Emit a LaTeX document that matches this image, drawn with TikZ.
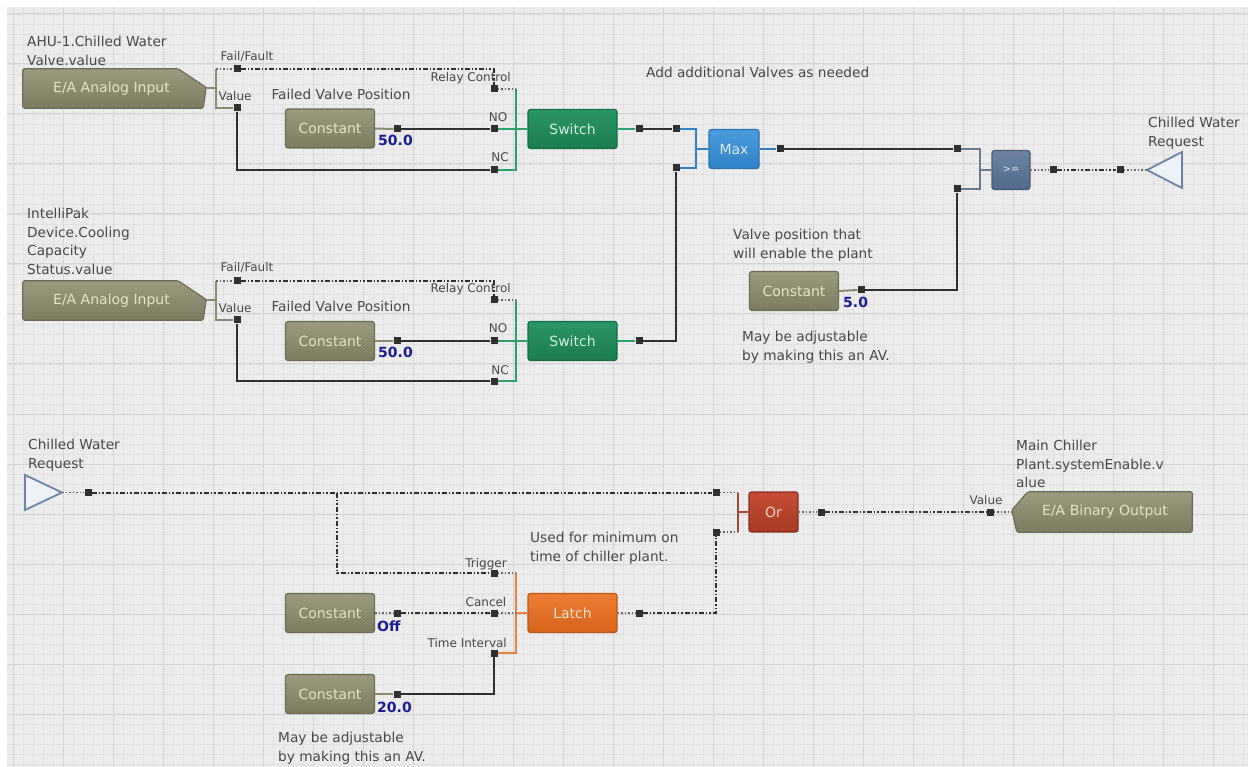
\documentclass[tikz,border=0pt]{standalone}
\usepackage{fontspec}
\setmainfont{DejaVu Sans}
\usetikzlibrary{calc}
\definecolor{bgc}{HTML}{ECECEC}
\definecolor{minorc}{HTML}{E2E2E2}
\definecolor{majorc}{HTML}{D4D4D4}
\definecolor{captxt}{HTML}{484848}
\definecolor{valblue}{HTML}{1C1C96}
\definecolor{wirec}{HTML}{303030}
\definecolor{olvT}{HTML}{9A9A7E}
\definecolor{olvB}{HTML}{7C7C60}
\definecolor{olvd}{HTML}{6C6C54}
\definecolor{olvt}{HTML}{E4E4CA}
\definecolor{grnT}{HTML}{2A9666}
\definecolor{grnB}{HTML}{1C7C50}
\definecolor{grnd}{HTML}{166C44}
\definecolor{grnt}{HTML}{CFF2DE}
\definecolor{grnbr}{HTML}{2EA070}
\definecolor{bluT}{HTML}{4A9CDC}
\definecolor{bluB}{HTML}{2F82C6}
\definecolor{blud}{HTML}{2A72B0}
\definecolor{blut}{HTML}{DDEEFB}
\definecolor{slT}{HTML}{6E84A2}
\definecolor{slB}{HTML}{53698A}
\definecolor{sld}{HTML}{485C78}
\definecolor{slbr}{HTML}{6A7A90}
\definecolor{redT}{HTML}{C44E34}
\definecolor{redB}{HTML}{A63A24}
\definecolor{redd}{HTML}{8E2E1C}
\definecolor{redt}{HTML}{F7D4C6}
\definecolor{redbr}{HTML}{A04A3A}
\definecolor{orT}{HTML}{EC7C34}
\definecolor{orB}{HTML}{D8641C}
\definecolor{ord}{HTML}{BC5416}
\definecolor{ort}{HTML}{FCE4CE}
\definecolor{orbr}{HTML}{E88040}
\definecolor{olvbr}{HTML}{8A8A70}
\definecolor{tric}{HTML}{6B84A8}
\definecolor{trif}{HTML}{EEF2F7}
\tikzset{
  capn/.style={font=\fontsize{13.7}{18.5}\selectfont, text=captxt, inner sep=0, align=left},
  plab/.style={font=\fontsize{12}{13}\selectfont, text=captxt, inner sep=0},
  valn/.style={font=\fontsize{14}{15}\selectfont\bfseries, text=valblue, inner sep=0, anchor=base west},
  blk/.style={rectangle, rounded corners=2.5pt, line width=1.2pt, font=\fontsize{14}{15}\selectfont, minimum height=39, inner sep=0},
  constblk/.style={blk, top color=olvT, bottom color=olvB, draw=olvd, text=olvt, minimum width=89},
  switchblk/.style={blk, top color=grnT, bottom color=grnB, draw=grnd, text=grnt, minimum width=89},
  maxblk/.style={blk, top color=bluT, bottom color=bluB, draw=blud, text=blut, minimum width=50},
  geblk/.style={blk, top color=slT, bottom color=slB, draw=sld, text=blut, minimum width=38, font=\fontsize{10}{11}\selectfont},
  orblk/.style={blk, top color=redT, bottom color=redB, draw=redd, text=redt, minimum width=49, minimum height=40},
  latchblk/.style={blk, top color=orT, bottom color=orB, draw=ord, text=ort, minimum width=89},
  iotext/.style={rectangle, text=olvt, font=\fontsize{14}{15}\selectfont, inner sep=0},
  iobody/.style={top color=olvT, bottom color=olvB, draw=olvd, line width=1.2pt, rounded corners=1.5pt},
  port/.style={rectangle, fill=wirec, inner sep=0, minimum size=7},
  wire/.style={draw=wirec, line width=2.2pt},
  bin/.style={draw=wirec, line width=2pt, dash pattern=on 5pt off 2pt on 1.5pt off 2pt on 1.5pt off 2pt},
  dots/.style={draw=wirec!75, line width=1.5pt, dash pattern=on 1.5pt off 2pt},
  brk/.style={line width=2pt, draw=#1},
  tri/.style={draw=tric, fill=trif, line width=1.8pt, line join=miter},
}
\begin{document}
\begin{tikzpicture}[x=1pt,y=-1pt]
\useasboundingbox (0,0) rectangle (1248,767);
\fill[white] (0,0) rectangle (1248,767);
\fill[bgc] (7,7) rectangle (1248,767);
\foreach \x in {13,23,...,1243} \draw[minorc, line width=0.6pt] (\x,7) -- (\x,767);
\foreach \y in {14,24,...,764} \draw[minorc, line width=0.6pt] (7,\y) -- (1248,\y);
\foreach \x in {13,63,...,1213} \draw[majorc, line width=1pt] (\x,7) -- (\x,767);
\foreach \y in {14,64,...,714} \draw[majorc, line width=1pt] (7,\y) -- (1248,\y);

% ---------------- captions ----------------
\node[capn, anchor=north west] (t1) at (27,36) {AHU-1.Chilled Water\\Valve.value};
\node[capn, anchor=north west] (t2) at (27,208) {IntelliPak\\Device.Cooling\\Capacity\\Status.value};
\node[capn, anchor=base] (t3) at (341,100) {Failed Valve Position};
\node[capn, anchor=base] (t4) at (341,312) {Failed Valve Position};
\node[capn, anchor=base west] (t5) at (646,78) {Add additional Valves as needed};
\node[capn, anchor=north west] (t6) at (1148,117) {Chilled Water\\Request};
\node[capn, anchor=north west] (t7) at (733,229) {Valve position that\\will enable the plant};
\node[capn, anchor=north west] (t8) at (742,331) {May be adjustable\\by making this an AV.};
\node[capn, anchor=north west] (t9) at (28,439) {Chilled Water\\Request};
\node[capn, anchor=north west] (t10) at (530,532) {Used for minimum on\\time of chiller plant.};
\node[capn, anchor=north west] (t11) at (1016,440) {Main Chiller\\Plant.systemEnable.v\\alue};
\node[capn, anchor=north west] (t12) at (278,732) {May be adjustable\\by making this an AV.};

% ---------------- I/O blocks ----------------
\node[iotext, minimum width=183, minimum height=39] (ai1) at (114.5,88.5) {};
\path[iobody] (ai1.north west) -- ([xshift=-28]ai1.north east) -- ([yshift=1]ai1.east) -- ([xshift=-3]ai1.south east) -- (ai1.south west) -- cycle;
\node[iotext] (ai1t) at ([xshift=-3]ai1.center) {E/A Analog Input};
\node[iotext, minimum width=183, minimum height=39] (ai2) at (114.5,300.5) {};
\path[iobody] (ai2.north west) -- ([xshift=-28]ai2.north east) -- ([yshift=1]ai2.east) -- ([xshift=-3]ai2.south east) -- (ai2.south west) -- cycle;
\node[iotext] (ai2t) at ([xshift=-3]ai2.center) {E/A Analog Input};
\node[iotext, minimum width=180, minimum height=40] (bo) at (1102,512) {};
\path[iobody] (bo.north east) -- (bo.south east) -- ([xshift=5]bo.south west) -- ([yshift=2]bo.west) -- ([xshift=16]bo.north west) -- cycle;
\node[iotext] (bot) at ([xshift=3]bo.center) {E/A Binary Output};

% ---------------- blocks ----------------
\node[constblk] (c1) at (330,128.5) {Constant};
\node[constblk] (c2) at (330,341) {Constant};
\node[constblk] (c5) at (794,291) {Constant};
\node[constblk] (coff) at (330,613) {Constant};
\node[constblk] (c20) at (330,694) {Constant};
\node[switchblk] (sw1) at (572.5,129) {Switch};
\node[switchblk] (sw2) at (572.5,341) {Switch};
\node[maxblk] (mx) at (734,149) {Max};
\node[geblk] (ge) at (1011,170) {>=};
\node[orblk] (or) at (773.5,512) {Or};
\node[latchblk] (lat) at (572.5,613) {Latch};

% triangles
\draw[tri] (1182,152) -- (1147,170) -- (1182,188) -- cycle;
\coordinate (rq1) at (1147,170);
\draw[tri] (25,475) -- (62,492.5) -- (25,510) -- cycle;
\coordinate (rq2) at (62,492.5);

% ---------------- ports ----------------
\node[port] (ff1) at (237,69) {};
\node[port] (v1) at (237,108) {};
\node[port] (rc1) at (494,89) {};
\node[port] (no1) at (494,129) {};
\node[port] (nc1) at (494,170) {};
\node[port] (c1o) at (397,129) {};
\node[port] (s1o) at (639,129) {};
\node[port] (m1) at (676,129) {};
\node[port] (m2) at (676,168) {};
\node[port] (mo) at (780,149) {};
\node[port] (g1) at (957,149) {};
\node[port] (g2) at (957,189) {};
\node[port] (go) at (1053,170) {};
\node[port] (ri) at (1120,170) {};
\node[port] (c5o) at (861,290) {};
\node[port] (ff2) at (237,281) {};
\node[port] (v2) at (237,320) {};
\node[port] (rc2) at (494,300) {};
\node[port] (no2) at (494,341) {};
\node[port] (nc2) at (494,381) {};
\node[port] (c2o) at (397,341) {};
\node[port] (s2o) at (639,341) {};
\node[port] (rqo) at (88,492.5) {};
\node[port] (o1) at (716,492.5) {};
\node[port] (o2) at (716,532) {};
\node[port] (trg) at (494,573) {};
\node[port] (cnl) at (494,613) {};
\node[port] (ti) at (494,653) {};
\node[port] (coffo) at (397,613) {};
\node[port] (c20o) at (397,694) {};
\node[port] (lo) at (639,613) {};
\node[port] (oo) at (821,512) {};
\node[port] (bv) at (990,512) {};

% ---------------- port labels ----------------
\node[plab, anchor=base] (l1) at (247,61) {Fail/Fault};
\node[plab, anchor=base] (l2) at (235,101) {Value};
\node[plab, anchor=base east] (l3) at (511,82) {Relay Control};
\node[plab, anchor=base] (l4) at (498,122) {NO};
\node[plab, anchor=base] (l5) at (500,162) {NC};
\node[plab, anchor=base] (l6) at (247,272) {Fail/Fault};
\node[plab, anchor=base] (l7) at (235,313) {Value};
\node[plab, anchor=base east] (l8) at (511,293) {Relay Control};
\node[plab, anchor=base] (l9) at (498,333) {NO};
\node[plab, anchor=base] (l10) at (500,374) {NC};
\node[plab, anchor=base] (l11) at (486,567) {Trigger};
\node[plab, anchor=base] (l12) at (486,606) {Cancel};
\node[plab, anchor=base east] (l13) at (507,647) {Time Interval};
\node[plab, anchor=base] (l14) at (986,504) {Value};

\node[valn] (n1) at (378,146) {50.0};
\node[valn] (n2) at (378,358) {50.0};
\node[valn] (n3) at (843,308) {5.0};
\node[valn] (n4) at (377,631) {Off};
\node[valn] (n5) at (377,712) {20.0};

% ---------------- brackets ----------------
\coordinate (b1) at (216,88.5);
\draw[brk=olvbr] (ai1.east) -- (b1);
\draw[brk=olvbr] (b1 |- ff1) -- (b1 |- v1) -- (v1.west);
\draw[dots] (b1 |- ff1) -- (ff1.west);
\coordinate (b2) at (216,300.5);
\draw[brk=olvbr] (ai2.east) -- (b2);
\draw[brk=olvbr] (b2 |- ff2) -- (b2 |- v2) -- (v2.west);
\draw[dots] (b2 |- ff2) -- (ff2.west);

\coordinate (sb1) at (516,129);
\draw[brk=grnbr] (sb1 |- rc1) -- (sb1 |- nc1) -- (nc1.east);
\draw[brk=grnbr] (no1.east) -- (sw1.west);
\draw[dots] (rc1.east) -- (sb1 |- rc1);
\coordinate (sb2) at (516,341);
\draw[brk=grnbr] (sb2 |- rc2) -- (sb2 |- nc2) -- (nc2.east);
\draw[brk=grnbr] (no2.east) -- (sw2.west);
\draw[dots] (rc2.east) -- (sb2 |- rc2);

\coordinate (mb) at (696,149);
\draw[brk=bluB] (m1.east) -| (mb) |- (m2.east);
\draw[brk=bluB] (mb) -- (mx.west);
\coordinate (gb) at (980,170);
\draw[brk=slbr] (g1.east) -| (gb) |- (g2.east);
\draw[brk=slbr] (gb) -- (ge.west);

\coordinate (ob) at (738,512);
\draw[brk=redbr] (ob |- o1) -- (ob |- o2);
\draw[brk=redbr] (ob) -- (or.west);
\draw[dots] (o1.east) -- (ob |- o1);
\draw[dots] (o2.east) -- (ob |- o2);
\coordinate (lb) at (516,613);
\draw[brk=orbr] (lb |- trg) -- (lb |- ti) -- (ti.east);
\draw[brk=orbr] (lb) -- (lat.west);
\draw[dots] (trg.east) -- (lb |- trg);
\draw[dots] (cnl.east) -- (lb |- cnl);

% short block outputs
\draw[brk=olvbr] (c1.east) -- (c1o.west);
\draw[brk=olvbr] (c2.east) -- (c2o.west);
\draw[brk=olvbr] (c5.east) -- (c5o.west);
\draw[brk=olvbr] (c20.east) -- (c20o.west);
\draw[dots] (coff.east) -- (coffo.west);
\draw[brk=grnbr] (sw1.east) -- (s1o.west);
\draw[brk=grnbr] (sw2.east) -- (s2o.west);
\draw[brk=bluB] (mx.east) -- (mo.west);
\draw[dots] (ge.east) -- (go.west);
\draw[dots] (ri.east) -- (rq1);
\draw[dots] (rq2) -- (rqo.west);
\draw[dots] (lat.east) -- (lo.west);
\draw[dots] (or.east) -- (oo.west);
\draw[dots] (bv.east) -- (bo.west);

% ---------------- wires ----------------
\draw[bin] (ff1) -| (rc1);
\draw[wire] (v1) |- (nc1);
\draw[wire] (c1o) -- (no1);
\draw[bin] (ff2) -| (rc2);
\draw[wire] (v2) |- (nc2);
\draw[wire] (c2o) -- (no2);
\draw[wire] (s1o) -- (m1);
\draw[wire] (s2o) -| (m2);
\draw[wire] (mo) -- (g1);
\draw[wire] (c5o) -| (g2);
\draw[bin] (go) -- (ri);
\draw[bin] (rqo) -- (o1);
\coordinate (br) at (337,492.5);
\draw[bin] (br) |- (trg);
\draw[bin] (coffo) -- (cnl);
\draw[wire] (c20o) -| (ti);
\draw[bin] (lo) -| (o2);
\draw[bin] (oo) -- (bv);

% redraw ports on top
\foreach \p in {ff1,v1,rc1,no1,nc1,c1o,s1o,m1,m2,mo,g1,g2,go,ri,c5o,ff2,v2,rc2,no2,nc2,c2o,s2o,rqo,o1,o2,trg,cnl,ti,coffo,c20o,lo,oo,bv}
  \fill[wirec] ($(\p)+(-3.5,-3.5)$) rectangle ($(\p)+(3.5,3.5)$);
\end{tikzpicture}
\end{document}
